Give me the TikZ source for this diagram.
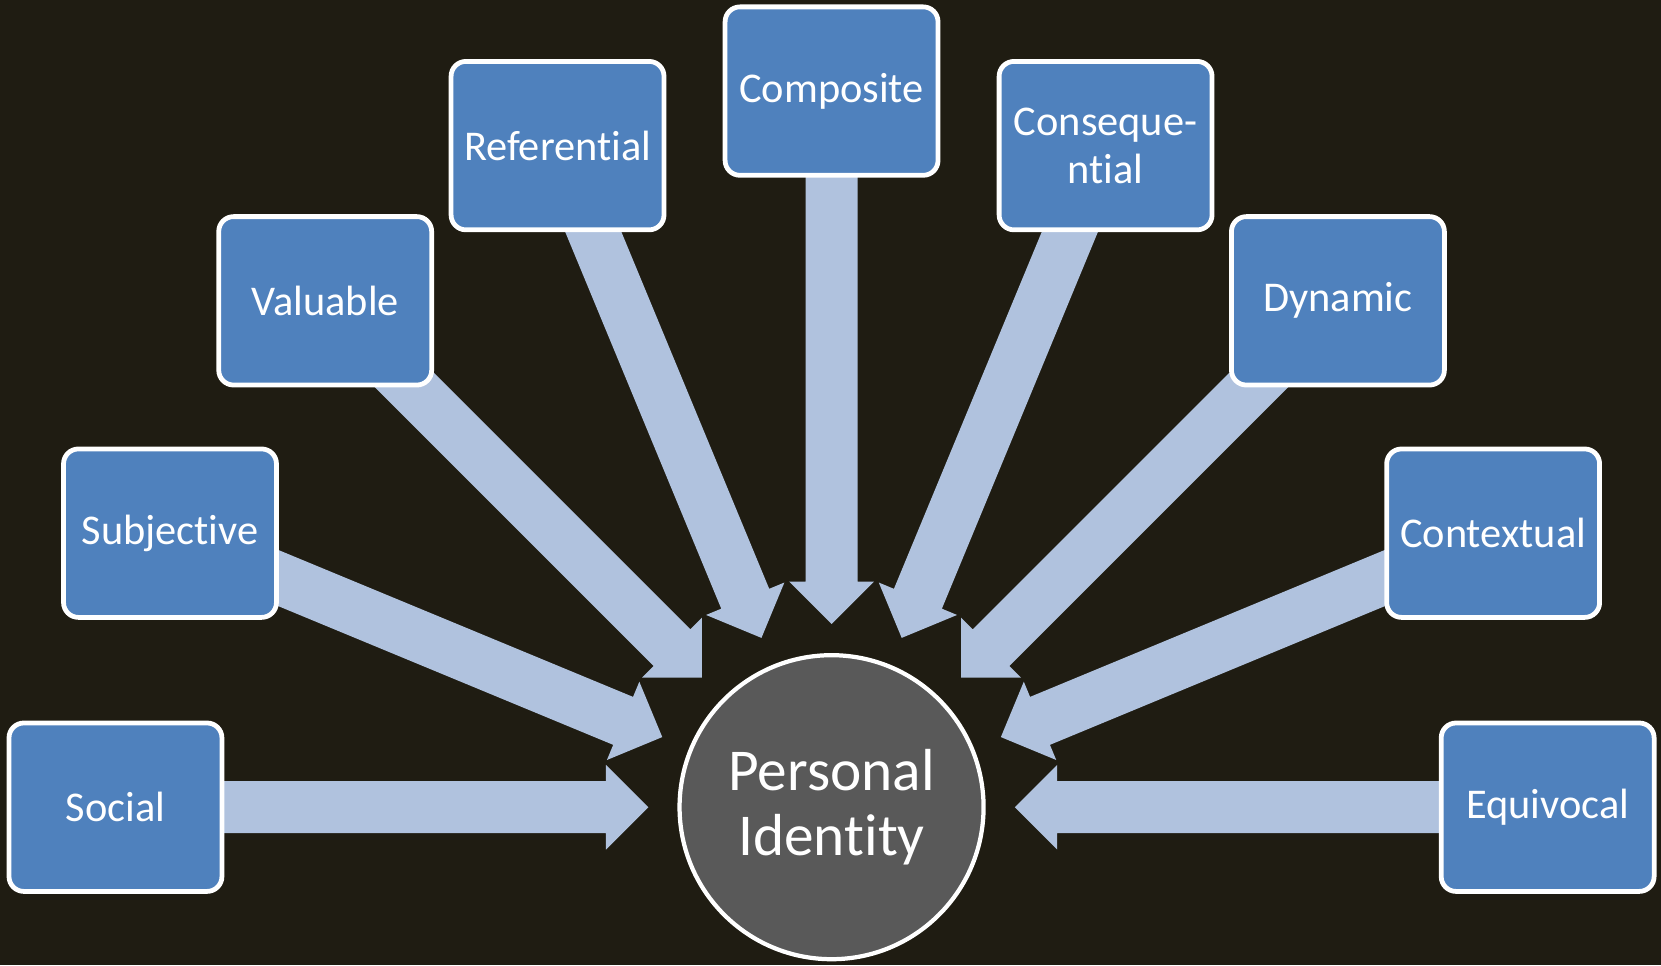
\documentclass[tikz,border=0pt]{standalone}
\usepackage{fontspec}
\setmainfont{Carlito}[Ligatures=NoCommon]
\usetikzlibrary{calc}
\pgfdeclarelayer{back}
\pgfsetlayers{back,main}

\definecolor{pagebg}{RGB}{31,28,18}
\definecolor{boxblue}{RGB}{79,129,189}
\definecolor{spokeblue}{RGB}{176,194,222}
\definecolor{hubgrey}{RGB}{89,89,89}

\tikzset{
  trait/.style={draw=white, line width=4.5pt, fill=boxblue, rounded corners=14pt,
    minimum width=201pt, minimum height=159pt, text=white, align=center,
    font=\fontsize{40}{45}\selectfont},
  hub/.style={circle, draw=white, line width=4pt, fill=hubgrey, minimum size=287pt,
    text=white, align=center, font=\fontsize{56}{61}\selectfont},
  spokefill/.style={fill=spokeblue},
}

% block arrow from a trait box into the hub
\newcommand\spoke[1]{%
  \pgfmathanglebetweenpoints{\pgfpointanchor{pi}{center}}{\pgfpointanchor{#1}{center}}%
  \let\spokeangle\pgfmathresult
  \fill[spokefill, shift={(pi.center)}, rotate=\spokeangle]
    (173,0) -- (213,40) -- (213,24.5) -- (676,24.5) -- (676,-24.5)
    -- (213,-24.5) -- (213,-40) -- cycle;}

\begin{document}
\begin{tikzpicture}[x=1pt,y=1pt]
  \useasboundingbox (0,0) rectangle (1568,911);

  \node[hub] (pi) at (785,149) {Personal\\Identity};

  \node[trait] (social)   at ($(pi)+(180:676)$)   {Social};
  \node[trait] (subj)     at ($(pi)+(157.5:676)$) {Subjective};
  \node[trait] (valu)     at ($(pi)+(135:676)$)   {Valuable};
  \node[trait] (refe)     at ($(pi)+(112.5:676)$) {Referential};
  \node[trait] (comp)     at ($(pi)+(90:676)$)    {Composite};
  \node[trait] (conseq)   at ($(pi)+(67.5:676)$)  {Conseque-\\ntial};
  \node[trait] (dyna)     at ($(pi)+(45:676)$)    {Dynamic};
  \node[trait] (cont)     at ($(pi)+(22.5:676)$)  {Contextual};
  \node[trait] (equi)     at ($(pi)+(0:676)$)     {Equivocal};

  \begin{pgfonlayer}{back}
    \fill[pagebg] (0,0) rectangle (1568,911);
    \spoke{social}\spoke{subj}\spoke{valu}\spoke{refe}\spoke{comp}
    \spoke{conseq}\spoke{dyna}\spoke{cont}\spoke{equi}
  \end{pgfonlayer}
\end{tikzpicture}
\end{document}
